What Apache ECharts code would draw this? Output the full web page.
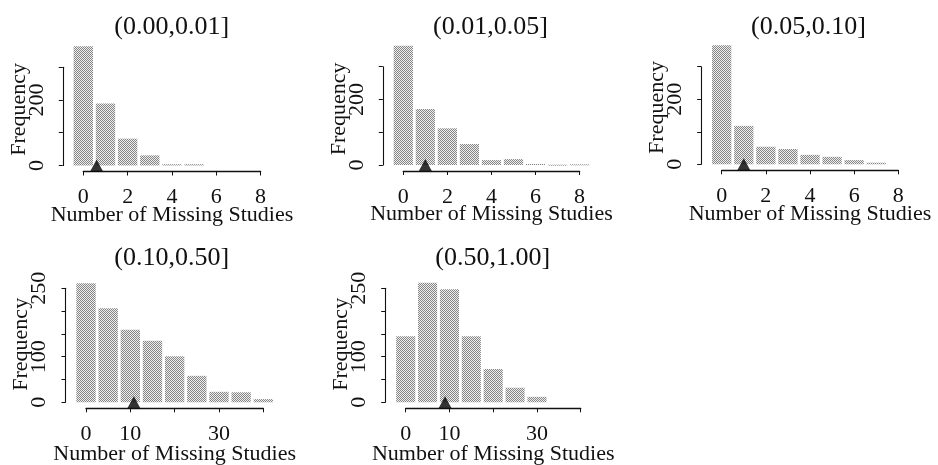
<!DOCTYPE html>
<html>
<head>
<meta charset="utf-8">
<script src="https://cdn.jsdelivr.net/npm/echarts@6/dist/echarts.min.js"></script>
<style>
  html, body { margin: 0; padding: 0; background: #fff; }
  #chart { width: 938px; height: 465px; }
</style>
</head>
<body>
<div id="chart"></div>
<script>
// Panel titles (p-value intervals)
const panelTitles = ['(0.00,0.01]', '(0.01,0.05]', '(0.05,0.10]', '(0.10,0.50]', '(0.50,1.00]'];

// Histogram bin centres and counts per panel
const binsSmall = [0, 1, 2, 3, 4, 5, 6, 7, 8];
const binsLarge = [0, 5, 10, 15, 20, 25, 30, 35, 40];

const counts1 = [364, 189, 82, 31, 4, 4];
const counts2 = [364, 171, 112, 64, 15, 18, 3, 1, 2];
const counts3 = [366, 118, 54, 47, 29, 23, 13, 5];
const counts4 = [261, 206, 159, 135, 101, 58, 23, 22, 7];
const counts5 = [145, 262, 248, 145, 73, 32, 12];

// Marked value (triangle) on each panel's axis
const markers = [0.6, 1.0, 1.0, 10.8, 9.0];

// Axis tick settings
const xTicksSmall = { min: 0, max: 8, interval: 2, shown: [0, 2, 4, 6, 8] };
const xTicksLarge = { min: 0, max: 40, interval: 10, shown: [0, 10, 30] };
const yTicksSmall = { min: 0, max: 300, interval: 100, shown: [0, 200] };
const yTicksLarge = { min: 0, max: 250, interval: 50, shown: [0, 100, 250] };

// Halftone fill for the bars
function makePattern() {
  const c = document.createElement('canvas');
  c.width = 2; c.height = 2;
  const g = c.getContext('2d');
  g.fillStyle = '#efefef'; g.fillRect(0, 0, 2, 2);
  g.fillStyle = '#858585'; g.fillRect(0, 0, 1, 1); g.fillRect(1, 1, 1, 1);
  return { image: c, repeat: 'repeat' };
}
const barFill = makePattern();

const FONT = 'Liberation Serif';
const TXT = '#111';

// Layout of each panel: left/width of x-range, top/height of y-range
const layout = [
  { left: 83.3, top: 67.2, width: 177.3, height: 98.3, titleX: 171.7, titleY: 14, nameGap: 32.5, nameShift: 7 },
  { left: 403.3, top: 66.7, width: 176.3, height: 98.3, titleX: 490.5, titleY: 14, nameGap: 32.5, nameShift: 7 },
  { left: 721.7, top: 66.7, width: 176.6, height: 97.6, titleX: 808.5, titleY: 14, nameGap: 32.5, nameShift: 8 },
  { left: 86.0, top: 288.3, width: 177.3, height: 114.0, titleX: 171.7, titleY: 245, nameGap: 35, nameShift: 1 },
  { left: 405.7, top: 288.3, width: 175.0, height: 114.0, titleX: 492.7, titleY: 245, nameGap: 35, nameShift: 1 }
];

const panels = [
  { bins: binsSmall, counts: counts1, bw: 1, xt: xTicksSmall, yt: yTicksSmall },
  { bins: binsSmall, counts: counts2, bw: 1, xt: xTicksSmall, yt: yTicksSmall },
  { bins: binsSmall, counts: counts3, bw: 1, xt: xTicksSmall, yt: yTicksSmall },
  { bins: binsLarge, counts: counts4, bw: 5, xt: xTicksLarge, yt: yTicksLarge },
  { bins: binsLarge, counts: counts5, bw: 5, xt: xTicksLarge, yt: yTicksLarge }
];

const grid = [], xAxis = [], yAxis = [], series = [], title = [];

panels.forEach((p, i) => {
  const L = layout[i];
  grid.push({
    left: L.left, top: L.top, width: L.width, height: L.height,
    containLabel: false, outerBoundsMode: 'none'
  });

  title.push({
    text: panelTitles[i],
    left: L.titleX,
    top: L.titleY,
    padding: 0,
    textAlign: 'center',
    textStyle: { fontFamily: FONT, fontSize: 26, fontWeight: 'normal', color: TXT }
  });

  xAxis.push({
    type: 'value', gridIndex: i,
    min: p.xt.min, max: p.xt.max, interval: p.xt.interval,
    offset: 6,
    splitLine: { show: false },
    axisLine: { show: true, onZero: false, lineStyle: { color: '#111', width: 1.4 } },
    axisTick: { show: true, length: 4, lineStyle: { color: '#111', width: 1 } },
    axisLabel: {
      margin: 15, fontFamily: FONT, fontSize: 22, color: TXT,
      formatter: v => (p.xt.shown.indexOf(v) >= 0 ? String(v) : '')
    },
    name: 'Number of Missing Studies', nameLocation: 'middle', nameGap: L.nameGap,
    nameMoveOverlap: false,
    nameTextStyle: { fontFamily: FONT, fontSize: 22, color: TXT }
  });

  yAxis.push({
    type: 'value', gridIndex: i,
    min: p.yt.min, max: p.yt.max, interval: p.yt.interval,
    offset: 20.5,
    splitLine: { show: false },
    axisLine: { show: true, onZero: false, lineStyle: { color: '#111', width: 1.1 } },
    axisTick: { show: true, length: 4, lineStyle: { color: '#111', width: 1 } },
    axisLabel: {
      rotate: 90, margin: 15, fontFamily: FONT, fontSize: 22, color: TXT,
      formatter: v => (p.yt.shown.indexOf(v) >= 0 ? String(v) : '')
    },
    name: 'Frequency', nameLocation: 'middle', nameGap: 33,
    nameMoveOverlap: false,
    nameTextStyle: { fontFamily: FONT, fontSize: 22, color: TXT, padding: [0, 0, 0, L.nameShift * 2] }
  });

  const bw = p.bw;
  series.push({
    type: 'custom', xAxisIndex: i, yAxisIndex: i, clip: false,
    data: p.counts.map((c, k) => [p.bins[k], c]),
    renderItem: (params, api) => {
      const c = api.value(0), v = api.value(1);
      const a = api.coord([c - bw / 2, 0]);
      const b = api.coord([c + bw / 2, v]);
      const gap = 1.4;
      return {
        type: 'rect',
        shape: { x: a[0] + gap, y: b[1], width: b[0] - a[0] - 2 * gap, height: Math.max(a[1] - b[1], 1) },
        style: { fill: barFill }
      };
    }
  });

  series.push({
    type: 'scatter', xAxisIndex: i, yAxisIndex: i, clip: false, z: 5,
    symbol: 'triangle', symbolSize: [13, 12],
    itemStyle: { color: '#000' },
    data: [[markers[i], 0]]
  });
});

const chart = echarts.init(document.getElementById('chart'), null, { renderer: 'canvas' });
chart.setOption({ animation: false, backgroundColor: '#fff', title, grid, xAxis, yAxis, series });
</script>
</body>
</html>
